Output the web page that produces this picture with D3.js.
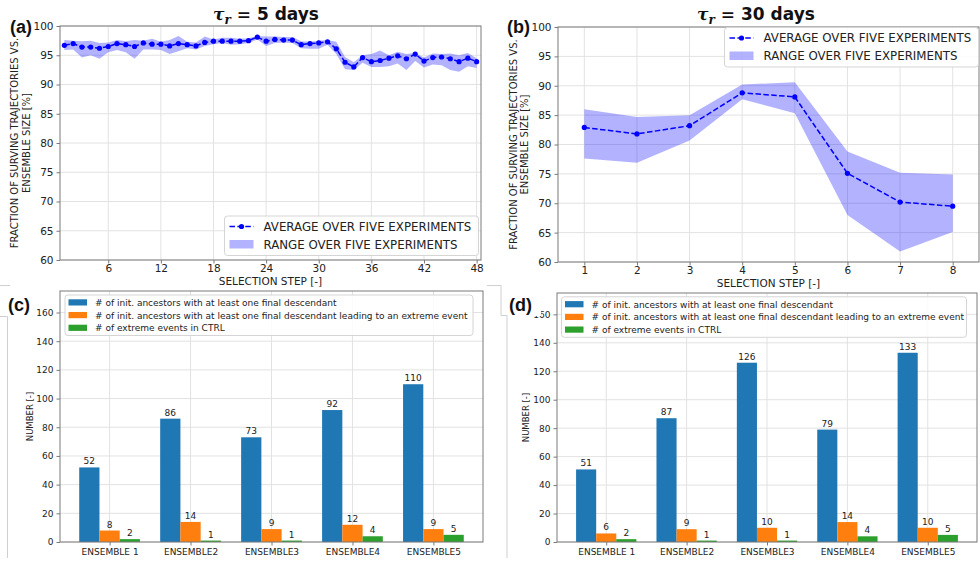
<!DOCTYPE html>
<html><head><meta charset="utf-8">
<script src="https://cdn.jsdelivr.net/npm/d3@7"></script>
<style>body{margin:0;background:#fff}svg{display:block;font-family:"DejaVu Sans",sans-serif}</style>
</head><body><svg id="c" width="980" height="561"></svg>
<script>
// ---------- DATA ----------
const stepsA = [1,2,3,4,5,6,7,8,9,10,11,12,13,14,15,16,17,18,19,20,21,22,23,24,25,26,27,28,29,30,31,32,33,34,35,36,37,38,39,40,41,42,43,44,45,46,47,48];
const avgA = [96.7,97.0,96.4,96.4,96.2,96.5,97.0,96.8,96.5,97.1,96.9,96.9,96.6,97.0,96.8,96.6,97.2,97.4,97.4,97.4,97.4,97.5,98.1,97.4,97.7,97.6,97.6,96.8,97.0,97.1,97.3,96.1,93.8,93.0,94.6,93.9,94.1,94.5,94.9,94.4,95.2,94.0,94.6,94.7,94.4,93.9,94.5,93.9];
const upA  = [97.6,97.5,97.4,97.5,97.1,97.2,97.6,97.4,97.6,97.5,97.8,97.3,97.6,98.3,97.3,97.2,98.2,97.7,98.0,98.0,97.8,97.9,98.3,98.2,98.2,98.1,98.1,97.4,97.3,97.5,97.6,97.3,94.7,93.8,95.0,95.2,95.8,95.0,95.6,95.2,95.4,94.6,95.3,95.2,95.3,95.0,95.4,94.5];
const loA  = [95.9,96.0,94.6,95.0,94.4,95.5,95.9,95.5,94.4,96.0,96.0,95.9,95.2,95.7,96.2,96.0,96.6,96.9,97.1,96.8,96.9,97.1,97.7,96.6,97.1,97.2,97.1,96.2,96.1,96.1,96.8,95.2,92.6,92.5,93.7,93.0,93.0,93.1,93.6,92.5,94.0,92.9,93.4,93.3,92.5,92.2,93.1,92.8];
const ticksA = [6,12,18,24,30,36,42,48];

const stepsB = [1,2,3,4,5,6,7,8];
const avgB = [82.9,81.8,83.2,88.8,88.1,75.1,70.2,69.5];
const upB  = [86.0,84.7,85.0,90.2,90.6,78.8,75.2,74.9];
const loB  = [77.6,76.9,80.7,87.7,85.3,68.0,61.8,65.1];

const yTicksLine = [60,65,70,75,80,85,90,95,100];
const legendLine = ["AVERAGE OVER FIVE EXPERIMENTS","RANGE OVER FIVE EXPERIMENTS"];

const ensembles = ["ENSEMBLE 1","ENSEMBLE2","ENSEMBLE3","ENSEMBLE4","ENSEMBLE5"];
const ancestorsC = [52,86,73,92,110];
const extremeAncC = [8,14,9,12,9];
const ctrlC = [2,1,1,4,5];
const ancestorsD = [51,87,126,79,133];
const extremeAncD = [6,9,10,14,10];
const ctrlD = [2,1,1,4,5];
const yTicksBar = [0,20,40,60,80,100,120,140,160];
const legendBar = ["# of init. ancestors with at least one final descendant",
  "# of init. ancestors with at least one final descendant leading to an extreme event",
  "# of extreme events in CTRL"];
const barColors = ["#1f77b4","#ff7f0e","#2ca02c"];

// ---------- DRAW ----------
const svg = d3.select("#c");
const GRID = "#e2e2e2", SPINE = "#7a7a7a";

function linePanel(o){
  const x = d3.scaleLinear().domain(o.xd).range([o.l,o.r]);
  const y = d3.scaleLinear().domain([60,100]).range([o.b,o.t]);
  const g = svg.append("g");
  g.selectAll(".gx").data(o.xticks).join("line").attr("x1",d=>x(d)).attr("x2",d=>x(d)).attr("y1",o.t).attr("y2",o.b).attr("stroke",GRID);
  g.selectAll(".gy").data(yTicksLine).join("line").attr("y1",d=>y(d)).attr("y2",d=>y(d)).attr("x1",o.l).attr("x2",o.r).attr("stroke",GRID);
  const idx = o.xs.map((d,i)=>i);
  g.append("path").datum(idx).attr("fill","rgba(0,0,255,0.3)")
    .attr("d", d3.area().x(i=>x(o.xs[i])).y0(i=>y(o.lo[i])).y1(i=>y(o.up[i])));
  g.append("path").datum(idx).attr("fill","none").attr("stroke","#0000ff").attr("stroke-width",1.5).attr("stroke-dasharray","5.5,2.4")
    .attr("d", d3.line().x(i=>x(o.xs[i])).y(i=>y(o.avg[i])));
  g.selectAll(".pt").data(idx).join("circle").attr("cx",i=>x(o.xs[i])).attr("cy",i=>y(o.avg[i])).attr("r",2.6).attr("fill","#0000ff");
  const ax = g.append("g").attr("transform",`translate(0,${o.b})`).call(d3.axisBottom(x).tickValues(o.xticks).tickSize(3.5).tickPadding(1.5));
  const ay = g.append("g").attr("transform",`translate(${o.l},0)`).call(d3.axisLeft(y).tickValues(yTicksLine).tickSize(3.5).tickPadding(3));
  [ax,ay].forEach(a=>{a.select(".domain").remove();a.selectAll("line").attr("stroke",SPINE);a.selectAll("text").attr("font-size",10.5).attr("fill","#222").attr("font-family","DejaVu Sans");});
  g.append("rect").attr("x",o.l).attr("y",o.t).attr("width",o.r-o.l).attr("height",o.b-o.t).attr("fill","none").attr("stroke",SPINE);
  const L = o.leg;
  g.append("rect").attr("x",L.x).attr("y",L.y).attr("width",L.w).attr("height",L.h).attr("rx",3).attr("fill","rgba(255,255,255,0.85)").attr("stroke","#d5d5d5");
  g.append("line").attr("x1",L.x+5).attr("x2",L.x+29).attr("y1",L.y+10.5).attr("y2",L.y+10.5).attr("stroke","#0000ff").attr("stroke-width",1.5).attr("stroke-dasharray","5.5,2.4");
  g.append("circle").attr("cx",L.x+17).attr("cy",L.y+10.5).attr("r",2.6).attr("fill","#0000ff");
  g.append("rect").attr("x",L.x+5).attr("y",L.y+24).attr("width",24).attr("height",8.5).attr("fill","rgba(0,0,255,0.3)");
  legendLine.forEach((t,i)=>g.append("text").attr("x",L.x+39).attr("y",L.y+14.5+i*18).attr("font-size",11.8).attr("fill","#222").text(t));
  const yl = g.append("text").attr("transform",`translate(${o.ylx},${(o.t+o.b)/2}) rotate(-90)`).attr("text-anchor","middle").attr("font-size",10).attr("fill","#222");
  yl.append("tspan").attr("x",0).attr("dy",0).text("FRACTION OF SURVING TRAJECTORIES VS.");
  yl.append("tspan").attr("x",0).attr("dy",11.5).text("ENSEMBLE SIZE [%]");
  g.append("text").attr("x",(o.l+o.r)/2).attr("y",o.b+24.5).attr("text-anchor","middle").attr("font-size",10.5).attr("fill","#222").text("SELECTION STEP [-]");
  const tt = g.append("text").attr("x",o.tx).attr("y",20).attr("text-anchor","middle").attr("font-size",17).attr("font-weight","bold").attr("fill","#111");
  tt.append("tspan").attr("font-family","DejaVu Serif").attr("font-style","italic").text("τ");
  tt.append("tspan").attr("font-family","DejaVu Serif").attr("font-style","italic").attr("font-size",12).attr("dy",4).text("r");
  tt.append("tspan").attr("font-family","DejaVu Serif").attr("dy",-4).text(" = ");
  tt.append("tspan").text(o.title);
  g.append("text").attr("x",o.lab[0]).attr("y",o.lab[1]).attr("font-size",18).attr("font-weight","bold").attr("font-family","Liberation Sans").attr("fill","#111").text(o.label);
}

function barPanel(o){
  const x = d3.scaleLinear().domain([-0.6125,4.6125]).range([o.l,o.r]);
  const y = d3.scaleLinear().domain([0,175]).range([o.b,o.t]);
  const g = svg.append("g");
  const idx = ensembles.map((d,i)=>i);
  g.selectAll(".gx").data(idx).join("line").attr("x1",d=>x(d)).attr("x2",d=>x(d)).attr("y1",o.t).attr("y2",o.b).attr("stroke",GRID);
  g.selectAll(".gy").data(yTicksBar).join("line").attr("y1",d=>y(d)).attr("y2",d=>y(d)).attr("x1",o.l).attr("x2",o.r).attr("stroke",GRID);
  const series = o.series;
  const bw = x(0.25)-x(0);
  series.forEach((s,k)=>{
    const off = (k-1)*0.25;
    g.selectAll(".b"+k).data(idx).join("rect").attr("x",i=>x(i+off)-bw/2).attr("width",bw)
      .attr("y",i=>y(s[i])).attr("height",i=>y(0)-y(s[i])).attr("fill",barColors[k]);
    g.selectAll(".v"+k).data(idx).join("text").attr("x",i=>x(i+off)).attr("y",i=>y(s[i])-3)
      .attr("text-anchor","middle").attr("font-size",9).attr("fill","#222").text(i=>s[i]);
  });
  const ax = g.append("g").attr("transform",`translate(0,${o.b})`).call(d3.axisBottom(x).tickValues(idx).tickFormat(i=>ensembles[i]).tickSize(3.5).tickPadding(3));
  const ay = g.append("g").attr("transform",`translate(${o.l},0)`).call(d3.axisLeft(y).tickValues(yTicksBar).tickSize(3.5).tickPadding(3));
  [ax,ay].forEach(a=>{a.select(".domain").remove();a.selectAll("line").attr("stroke",SPINE);a.selectAll("text").attr("font-size",9).attr("fill","#222").attr("font-family","DejaVu Sans");});
  g.append("rect").attr("x",o.l).attr("y",o.t).attr("width",o.r-o.l).attr("height",o.b-o.t).attr("fill","none").attr("stroke",SPINE);
  const L = o.leg;
  g.append("rect").attr("x",L.x).attr("y",L.y).attr("width",L.w).attr("height",40.5).attr("rx",3).attr("fill","rgba(255,255,255,0.85)").attr("stroke","#d5d5d5");
  legendBar.forEach((t,i)=>{
    g.append("rect").attr("x",L.x+3.5).attr("y",L.y+4.3+i*12.7).attr("width",18.5).attr("height",6.2).attr("fill",barColors[i]);
    g.append("text").attr("x",L.x+30).attr("y",L.y+10.8+i*12.7).attr("font-size",9).attr("fill","#222").text(t);
  });
  g.append("text").attr("transform",`translate(${o.ylx},${(o.t+o.b)/2}) rotate(-90)`).attr("text-anchor","middle").attr("font-size",8.5).attr("fill","#222").text("NUMBER [-]");
}

linePanel({l:60,r:481,t:26,b:260,xd:[0.5,48.5],xs:stepsA,avg:avgA,up:upA,lo:loA,xticks:ticksA,
  leg:{x:224.5,y:216,w:254,h:39.5},ylx:18,tx:266,title:"5 days",label:"(a)",lab:[10,33]});
linePanel({l:558,r:979,t:27,b:262,xd:[0.5,8.5],xs:stepsB,avg:avgB,up:upB,lo:loB,xticks:stepsB,
  leg:{x:724.5,y:27.5,w:254,h:39.5},ylx:516.5,tx:756,title:"30 days",label:"(b)",lab:[507,33]});

barPanel({l:60,r:483,t:291,b:542,series:[ancestorsC,extremeAncC,ctrlC],leg:{x:65,y:295,w:408},ylx:32.5});
barPanel({l:557,r:977,t:293,b:542,series:[ancestorsD,extremeAncD,ctrlD],leg:{x:561.5,y:296.8,w:405},ylx:529});

// overlay artefacts of the composed figure
svg.append("rect").attr("x",501).attr("y",285).attr("width",40).attr("height",31).attr("fill","#fff");
const art = d3.path();
art.moveTo(0,285.5); art.lineTo(10,285.5);
art.moveTo(0,316.5); art.lineTo(7.5,316.5); art.lineTo(7.5,558);
art.moveTo(487,285.5); art.lineTo(501,285.5); art.lineTo(501,315.5); art.lineTo(507,315.5); art.lineTo(507,558);
svg.append("path").attr("d",art.toString()).attr("fill","none").attr("stroke","#cfcfcf");
svg.append("text").attr("x",8).attr("y",311).attr("font-size",18).attr("font-weight","bold").attr("font-family","Liberation Sans").attr("fill","#111").text("(c)");
svg.append("text").attr("x",509).attr("y",311).attr("font-size",18).attr("font-weight","bold").attr("font-family","Liberation Sans").attr("fill","#111").text("(d)");
</script></body></html>
